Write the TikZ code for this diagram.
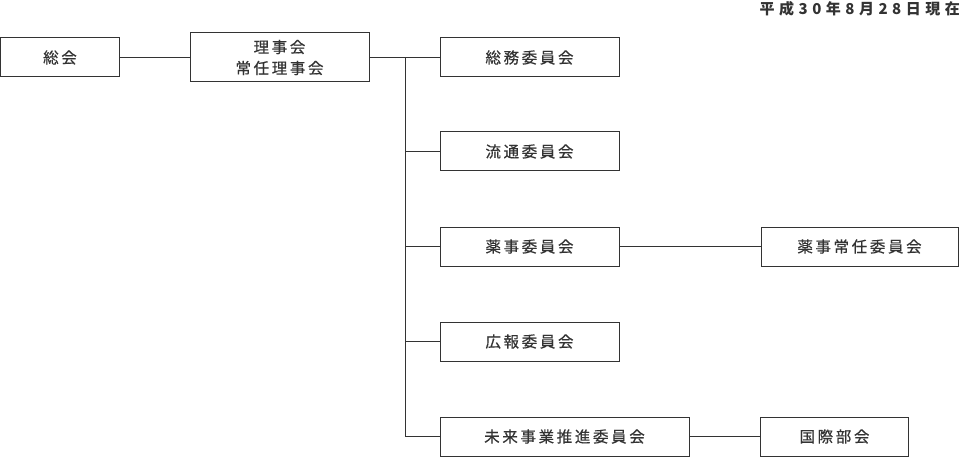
\documentclass[tikz,border=0pt]{standalone}
\usepackage{fontspec}
\setmainfont{Noto Sans CJK JP}[LetterSpace=17, FakeBold=0.4]
\newfontfamily\hdrfont{Noto Sans CJK JP}[LetterSpace=30]
\definecolor{ink}{HTML}{333333}
\begin{document}
\begin{tikzpicture}[x=1pt,y=-1pt,
  box/.style={draw=ink, line width=1pt, fill=white, text=ink, inner sep=0pt,
    minimum height=39pt, align=center,
    font=\fontsize{15.5}{21}\selectfont},
  link/.style={draw=ink, line width=1pt}]
\useasboundingbox (0,0) rectangle (960,457);
\node[box, minimum width=119pt] (soukai) at (60,57.5) {総会};
\node[box, minimum width=179pt, minimum height=49pt] (rijikai) at (279.5,57.5) {理事会\\常任理事会};
\node[box, minimum width=179pt] (soumu) at (529.5,57.5) {総務委員会};
\node[box, minimum width=179pt] (ryutsu) at (529.5,151.5) {流通委員会};
\node[box, minimum width=179pt] (yakuji) at (529.5,246.5) {薬事委員会};
\node[box, minimum width=179pt] (kouhou) at (529.5,341.5) {広報委員会};
\node[box, minimum width=249pt] (mirai) at (564.5,436.5) {未来事業推進委員会};
\node[box, minimum width=197pt] (yakujijo) at (859.5,246.5) {薬事常任委員会};
\node[box, minimum width=148pt] (kokusai) at (834.5,436.5) {国際部会};
\node[anchor=north east, text=ink, inner sep=0pt, font=\hdrfont\fontsize{15}{17}\selectfont\bfseries] (date) at (960,1) {平成30年8月28日現在};
\coordinate (trunk) at (405,57.5);
\draw[link] (soukai) -- (rijikai);
\draw[link] (rijikai) -- (soumu);
\draw[link] (trunk) |- (mirai.west);
\draw[link] (trunk |- ryutsu.west) -- (ryutsu.west);
\draw[link] (trunk |- yakuji.west) -- (yakuji.west);
\draw[link] (trunk |- kouhou.west) -- (kouhou.west);
\draw[link] (yakuji) -- (yakujijo);
\draw[link] (mirai) -- (kokusai);
\end{tikzpicture}
\end{document}
